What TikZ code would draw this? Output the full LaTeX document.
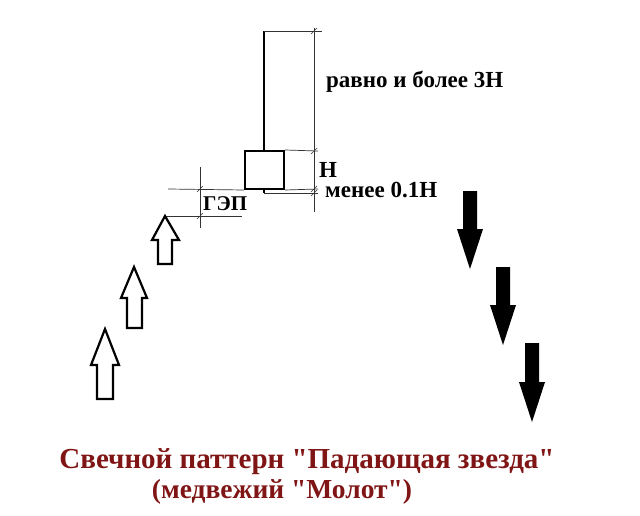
\documentclass[tikz,border=0pt]{standalone}
\usepackage{fontspec}
\setmainfont{Liberation Serif}[Ligatures=TeXOff]
\definecolor{titlered}{HTML}{801515}
\begin{document}
\begin{tikzpicture}[x=1pt,y=-1pt,
  candle/.style={line width=2pt,line join=miter},
  ext/.style={line width=0.7pt,black!80},
  tick/.style={line width=0.7pt,black!80},
  uparr/.style={line width=2.2pt,draw=black,fill=white,line join=miter},
  dnarr/.style={fill=black,draw=none},
  lbl/.style={font=\bfseries\fontsize{23}{25}\selectfont,inner sep=0pt,anchor=west},
  ttl/.style={font=\bfseries\fontsize{29}{31}\selectfont,text=titlered,inner sep=0pt}]
\useasboundingbox (0,0) rectangle (640,516);
% candle
\node[candle,draw,minimum width=39pt,minimum height=38pt,inner sep=0pt] (body) at (264.5,170) {};
\coordinate (wt) at (264,31);
\coordinate (wb) at (264,193);
\draw[candle] (body.north -| wt) -- (wt);
\draw[candle] (body.south -| wb) -- (wb);
% right dimension
\coordinate (dtop) at (314,28);
\coordinate (dbot) at (314,212);
\draw[ext] (dtop) -- (dbot);
\draw[ext] (wt) -- (322,31);
\draw[ext] (body.north east) -- (318,151);
\draw[ext] (body.south east) -- (318,189);
\draw[ext] (wb) -- (318,193);
\foreach \yy in {31,151,189,193} \draw[tick] (311,\yy+3) -- (317,\yy-3);
% left dimension
\draw[ext] (200,167) -- (200,228);
\draw[ext] (168,189) -- (body.south west);
\coordinate (a1tip) at (165,216);
\draw[ext] (a1tip) -- (242,216);
\foreach \yy in {189,216} \draw[tick] (197,\yy+3) -- (203,\yy-3);
% labels
\node[lbl] (l3h) at (326,82) {равно и более 3Н};
\node[lbl] (lh) at (319,170) {Н};
\node[lbl] (l01) at (325,190) {менее 0.1Н};
\node[lbl,font=\bfseries\fontsize{21}{23}\selectfont] (lgap) at (203,204) {ГЭП};
% up arrows
\draw[uparr] (165,216) -- (179,240) -- (172,240) -- (172,264) -- (158,264) -- (158,240) -- (152,240) -- cycle;
\draw[uparr] (134,267) -- (147,298) -- (142,298) -- (142,328) -- (127,328) -- (127,298) -- (121,298) -- cycle;
\draw[uparr] (105,329) -- (119,365) -- (113,365) -- (113,399) -- (97,399) -- (97,365) -- (91,365) -- cycle;
% down arrows
\fill[dnarr] (470,269) -- (483,229) -- (477,229) -- (477,191) -- (463,191) -- (463,229) -- (457,229) -- cycle;
\fill[dnarr] (503,345) -- (516,305) -- (510,305) -- (510,267) -- (496,267) -- (496,305) -- (490,305) -- cycle;
\fill[dnarr] (532,422) -- (545,382) -- (539,382) -- (539,343) -- (525,343) -- (525,382) -- (519,382) -- cycle;
% title
\node[ttl] (t1) at (307,462) {Свечной паттерн "Падающая звезда"};
\node[ttl,font=\bfseries\fontsize{27.5}{30}\selectfont] (t2) at (282,492) {(медвежий "Молот")};
\end{tikzpicture}
\end{document}
